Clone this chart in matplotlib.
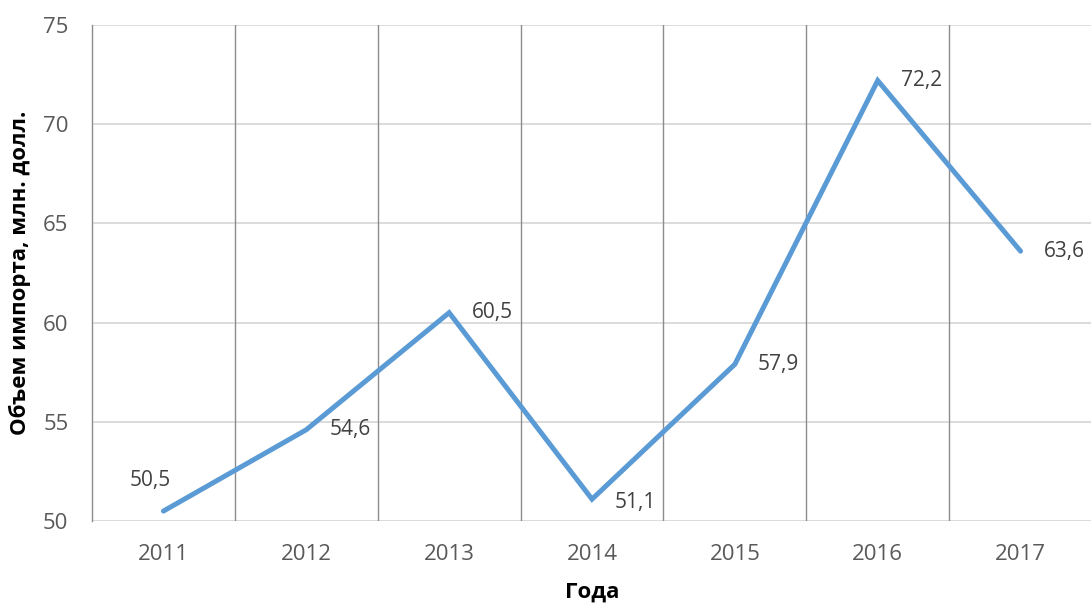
import matplotlib
matplotlib.use("Agg")
import matplotlib.pyplot as plt

years = ["2011", "2012", "2013", "2014", "2015", "2016", "2017"]
values = [50.5, 54.6, 60.5, 51.1, 57.9, 72.2, 63.6]
labels = ["50,5", "54,6", "60,5", "51,1", "57,9", "72,2", "63,6"]
yticks = [50, 55, 60, 65, 70, 75]

plt.rcParams['font.family'] = ['Open Sans', 'DejaVu Sans']

fig = plt.figure(figsize=(10.91, 6.04), dpi=100)
ax = fig.add_axes([92/1091, 1 - 521/604, 1000/1091, (521-25)/604])

x = list(range(len(years)))
ax.set_xlim(-0.5, len(years) - 0.5)
ax.set_ylim(50, 75)

# horizontal gridlines
for t in yticks:
    ax.axhline(t, color='#d9d9d9', lw=1.3, zorder=1)
# vertical category boundary lines
for b in range(1, len(years)):
    ax.axvline(b - 0.5, color='#8c8c8c', lw=1.0, zorder=1)

for s in ['top', 'right', 'bottom']:
    ax.spines[s].set_visible(False)
ax.spines['left'].set_color('#8c8c8c')
ax.spines['left'].set_linewidth(1.0)

ax.plot(x, values, color='#5b9bd5', lw=3.6, solid_capstyle='round',
        solid_joinstyle='miter', zorder=3)

offsets = [(-13, 31), (23, 0), (23, 0), (23, -3), (23, 0), (23, 0), (23, 0)]
for xi, v, lab, off in zip(x, values, labels, offsets):
    ha = 'center' if off[0] < 0 else 'left'
    ax.annotate(lab, (xi, v), xytext=off, textcoords='offset pixels',
                ha=ha, va='center', fontsize=15, color='#404040', zorder=4)

ax.set_xticks(x)
ax.set_xticklabels(years)
ax.set_yticks(yticks)
ax.set_yticklabels([str(t) for t in yticks])
ax.tick_params(axis='both', length=0, labelsize=16, labelcolor='#595959')
ax.tick_params(axis='x', pad=16.5)
ax.tick_params(axis='y', pad=17)

ax.set_xlabel("Года", fontsize=16, fontweight='bold', color='black', labelpad=12)
fig.text(20/1091, 1 - 273/604, "Объем импорта, млн. долл.", rotation=90,
         ha='center', va='center', fontsize=16, fontweight='bold', color='black')

fig.savefig("out.png", dpi=100)
